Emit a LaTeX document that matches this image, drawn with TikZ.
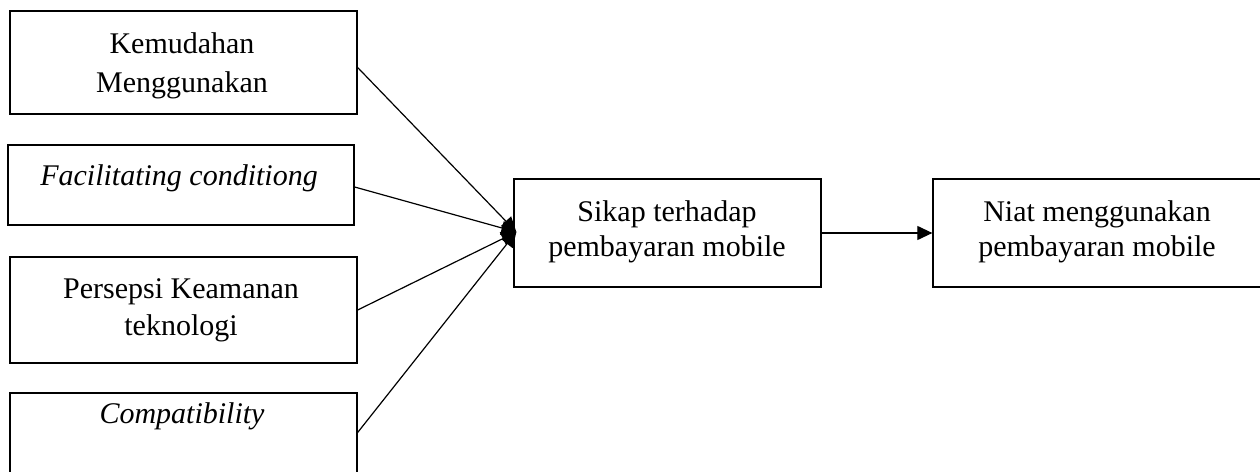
\documentclass[tikz,border=0pt]{standalone}
\usepackage{fontspec}
\setmainfont{Liberation Serif}
\usetikzlibrary{arrows.meta}
\begin{document}
\begin{tikzpicture}[x=1pt,y=-1pt,
  box/.style={draw=black, line width=1.3pt, rectangle, inner sep=0pt},
  txt/.style={anchor=base, inner sep=0pt, font=\fontsize{30}{36}\selectfont},
  itxt/.style={txt, font=\fontsize{30}{36}\selectfont\itshape},
  arr/.style={line width=1.2pt, -{Triangle[length=15pt,width=14pt]}}]
\useasboundingbox (0,0) rectangle (1260,471);
\clip (0,0) rectangle (1260,471);
\fill[white] (0,0) rectangle (1260,471);
% boxes
\node[box, minimum width=347pt, minimum height=103pt] (b1) at (183.5,62.5) {};
\node[box, minimum width=346pt, minimum height=80pt] (b2) at (181,185) {};
\node[box, minimum width=347pt, minimum height=106pt] (b3) at (183.5,310) {};
\node[box, minimum width=347pt, minimum height=83pt] (b4) at (183.5,434.5) {};
\node[box, minimum width=307pt, minimum height=108pt] (mid) at (667.5,233) {};
\node[box, minimum width=329pt, minimum height=108pt] (rgt) at (1097.5,233) {};
% texts
\node[txt] (t1a) at (182,53) {Kemudahan};
\node[txt] (t1b) at (182,92) {Menggunakan};
\node[itxt] (t2) at (179,185) {Facilitating conditiong};
\node[txt] (t3a) at (181,298) {Persepsi Keamanan};
\node[txt] (t3b) at (181,335) {teknologi};
\node[itxt] (t4) at (182,423) {Compatibility};
\node[txt] (tma) at (667,221) {Sikap terhadap};
\node[txt] (tmb) at (667,256) {pembayaran mobile};
\node[txt] (tra) at (1097,221) {Niat menggunakan};
\node[txt] (trb) at (1097,256) {pembayaran mobile};
% connectors
\coordinate (tip) at ([xshift=3pt,yshift=1pt]mid.west);
\draw[arr] ([yshift=-5pt]b1.east) -- (tip);
\draw[arr] ([yshift=-2pt]b2.east) -- (tip);
\draw[arr] (b3.east) -- (tip);
\draw[arr] ([yshift=2pt]b4.east) -- (tip);
\draw[arr] (mid.east) -- (rgt.west);
\end{tikzpicture}
\end{document}
